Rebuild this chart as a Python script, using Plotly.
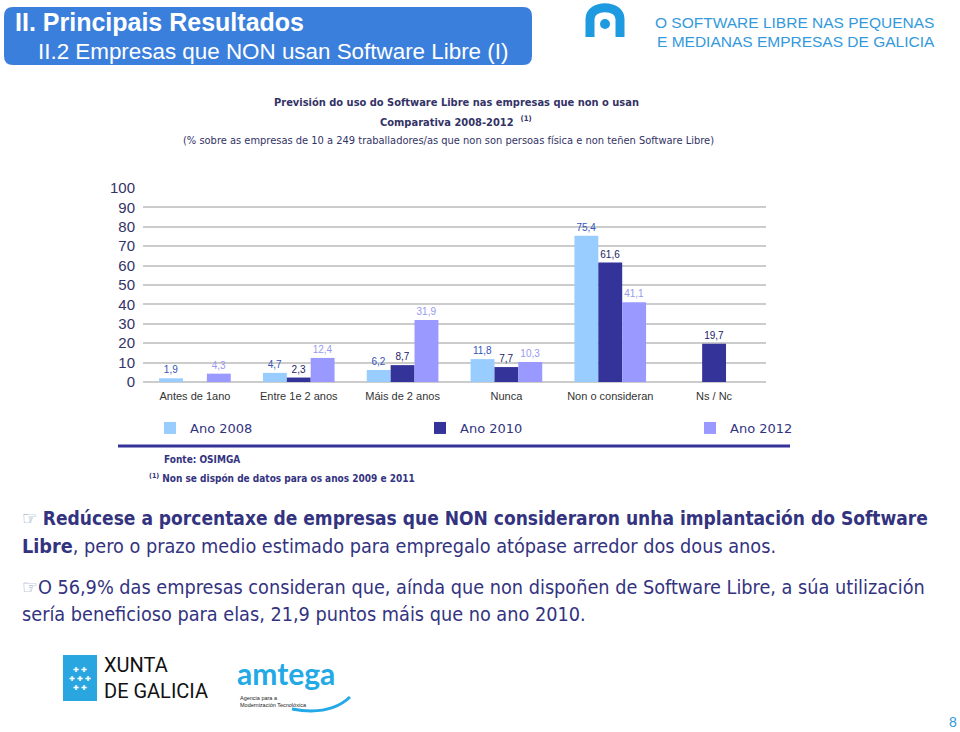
import plotly.graph_objects as go

W, H = 960, 732

categories = ["Antes de 1ano", "Entre 1e 2 anos", "Máis de 2 anos", "Nunca", "Non o consideran", "Ns / Nc"]
series_names = ["Ano 2008", "Ano 2010", "Ano 2012"]
values_2008 = [1.9, 4.7, 6.2, 11.8, 75.4, None]
values_2010 = [None, 2.3, 8.7, 7.7, 61.6, 19.7]
values_2012 = [4.3, 12.4, 31.9, 10.3, 41.1, None]
y_ticks = [0, 10, 20, 30, 40, 50, 60, 70, 80, 90, 100]

bar_colors = ["#99CCFF", "#333399", "#9999FF"]
label_colors = ["#3355BB", "#222266", "#9999EE"]
NAVY = "#33337F"


def px(x):
    return x / W


def py(y):
    return 1 - y / H


def fmt(v):
    return f"{v:.1f}".replace(".", ",")


fig = go.Figure()
for name, vals, col, lcol in zip(series_names, [values_2008, values_2010, values_2012], bar_colors, label_colors):
    xs = [c for c, v in zip(categories, vals) if v is not None]
    ys = [v for v in vals if v is not None]
    fig.add_trace(go.Bar(
        x=xs, y=ys, name=name,
        marker=dict(color=col, line=dict(width=0)),
        text=[fmt(v) for v in ys], textposition="outside",
        textfont=dict(family="Liberation Sans", size=10, color=lcol),
        cliponaxis=False, hoverinfo="skip",
    ))

fig.update_layout(
    width=W, height=H,
    margin=dict(l=0, r=0, t=0, b=0, autoexpand=False),
    paper_bgcolor="white", plot_bgcolor="white",
    barmode="group", bargap=0.31, bargroupgap=0,
    xaxis=dict(domain=[px(143), px(766)], showgrid=False, showline=False, zeroline=False,
               categoryorder="array", categoryarray=categories,
               tickfont=dict(family="Liberation Sans", size=11, color="#333333"),
               ticks="outside", ticklen=4, tickcolor="rgba(0,0,0,0)"),
    yaxis=dict(domain=[py(382), py(188)], range=[0, 100], tickvals=y_ticks,
               showgrid=True, gridcolor="#CCCCCC", gridwidth=1.5,
               zeroline=True, zerolinecolor="#CCCCCC", zerolinewidth=1.5,
               tickfont=dict(family="Liberation Sans", size=15, color="#333366"),
               ticks="outside", ticklen=4, tickcolor="rgba(0,0,0,0)"),
    legend=dict(orientation="h", x=px(150), y=py(428), xanchor="left", yanchor="middle",
                entrywidth=225, entrywidthmode="pixels",
                font=dict(family="DejaVu Sans", size=13, color=NAVY),
                bgcolor="rgba(0,0,0,0)"),
)

shapes = []
# header rounded box
x0, y0, x1, y1, r = 4, 7, 532, 65, 9
pts = (f"M {px(x0+r)},{py(y0)} L {px(x1-r)},{py(y0)} Q {px(x1)},{py(y0)} {px(x1)},{py(y0+r)} "
       f"L {px(x1)},{py(y1-r)} Q {px(x1)},{py(y1)} {px(x1-r)},{py(y1)} "
       f"L {px(x0+r)},{py(y1)} Q {px(x0)},{py(y1)} {px(x0)},{py(y1-r)} "
       f"L {px(x0)},{py(y0+r)} Q {px(x0)},{py(y0)} {px(x0+r)},{py(y0)} Z")
shapes.append(dict(type="path", xref="paper", yref="paper", path=pts,
                   fillcolor="#3B7FDC", line=dict(width=0)))
# top-right logo arch
shapes.append(dict(type="path", xref="paper", yref="paper",
                   path=f"M {px(590)},{py(37)} L {px(590)},{py(19)} C {px(590)},{py(4)} {px(620)},{py(4)} {px(620)},{py(19)} L {px(620)},{py(37)}",
                   line=dict(color="#1E9BE0", width=9)))
shapes.append(dict(type="circle", xref="paper", yref="paper",
                   x0=px(600), x1=px(610), y0=py(29), y1=py(19),
                   fillcolor="#1E9BE0", line=dict(width=0)))
# separator line under legend
shapes.append(dict(type="line", xref="paper", yref="paper",
                   x0=px(118), x1=px(790), y0=py(446), y1=py(446),
                   line=dict(color="#333399", width=3)))
# Xunta logo square
shapes.append(dict(type="rect", xref="paper", yref="paper",
                   x0=px(63), x1=px(97), y0=py(701), y1=py(655),
                   fillcolor="#29A6E0", line=dict(width=0)))
# amtega swoosh
shapes.append(dict(type="path", xref="paper", yref="paper",
                   path=f"M {px(292)},{py(709)} Q {px(330)},{py(716)} {px(350)},{py(697)}",
                   line=dict(color="#22A9E6", width=3)))
fig.update_layout(shapes=shapes)

ann = []


def text(x, y, s, size, color, family="Liberation Sans", xanchor="left", yanchor="middle"):
    ann.append(dict(x=px(x), y=py(y), xref="paper", yref="paper", text=s, showarrow=False,
                    xanchor=xanchor, yanchor=yanchor, align="left",
                    font=dict(family=family, size=size, color=color)))


text(13, 22, "<b>II. Principais Resultados</b>", 25, "white")
text(36, 51, "II.2 Empresas que NON usan Software Libre (I)", 22.4, "white")
text(653, 22, "O SOFTWARE LIBRE NAS PEQUENAS", 15.5, "#3399DD")
text(655, 41, "E MEDIANAS EMPRESAS DE GALICIA", 15.5, "#3399DD")

text(456, 103, "<b>Previsión do uso do Software Libre nas empresas que non o usan</b>", 11, "#333366",
     family="DejaVu Sans Condensed", xanchor="center")
text(456, 122, "<b>Comparativa 2008-2012  <sup>(1)</sup></b>", 11, "#333366",
     family="DejaVu Sans Condensed", xanchor="center")
text(448, 140, "(% sobre as empresas de 10 a 249 traballadores/as que non son persoas física e non teñen Software Libre)",
     11, "#333366", family="DejaVu Sans Condensed", xanchor="center")

text(162, 459, "<b>Fonte: OSIMGA</b>", 10, NAVY, family="DejaVu Sans Condensed")
text(147, 478, "<b><sup>(1)</sup> Non se dispón de datos para os anos 2009 e 2011</b>", 10, NAVY,
     family="DejaVu Sans Condensed")

BODY = "DejaVu Sans Condensed"
text(20, 518, "<span style='color:#8899BB'>☞</span> <b>Redúcese a porcentaxe de empresas que NON consideraron unha implantación do Software</b>",
     19, NAVY, family=BODY)
text(20, 546, "<b>Libre</b>, pero o prazo medio estimado para empregalo atópase arredor dos dous anos.",
     19.7, NAVY, family=BODY)
text(20, 587, "<span style='color:#8899BB'>☞</span>O 56,9% das empresas consideran que, aínda que non dispoñen de Software Libre, a súa utilización",
     19.7, NAVY, family=BODY)
text(20, 614, "sería beneficioso para elas, 21,9 puntos máis que no ano 2010.", 19.7, NAVY, family=BODY)

# logos text
text(80, 678, "✚ ✚<br>✚ ✚ ✚<br>✚ ✚", 7, "white", xanchor="center")
ann[-1]["align"] = "center"
text(102, 678, "XUNTA<br>DE GALICIA", 20, "#111111", family="Roboto")
text(235, 673, "<b>amtega</b>", 30, "#22A9E6", family="Lato")
text(238, 701, "Agencia para a<br>Modernización Tecnolóxica", 5.5, "#222222")
text(953, 722, "8", 14, "#3399DD", xanchor="center")

fig.update_layout(annotations=ann)
fig.write_html("out.html", config={"displayModeBar": False},
               post_script="document.body.style.margin='0';document.body.style.overflow='hidden';")
